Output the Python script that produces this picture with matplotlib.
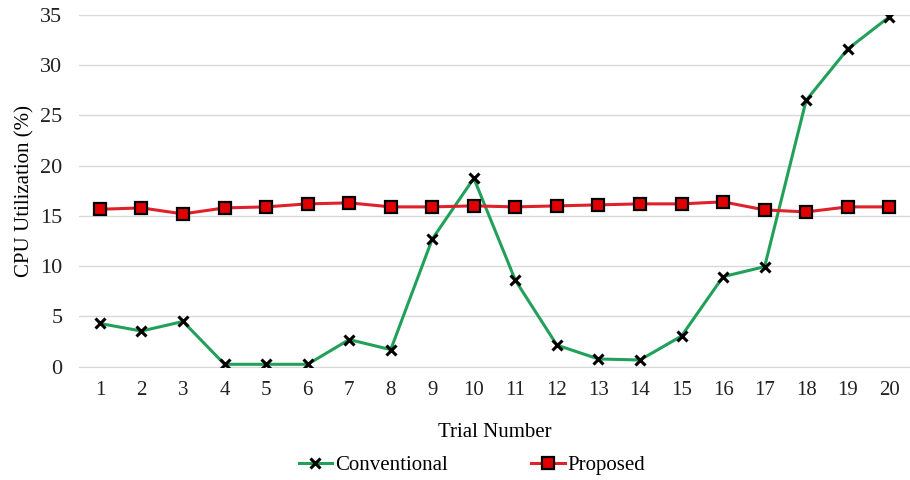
import matplotlib
matplotlib.use("Agg")
import matplotlib.pyplot as plt

trials = list(range(1, 21))
conventional = [4.3, 3.55, 4.5, 0.24, 0.24, 0.24, 2.7, 1.7, 12.7, 18.75,
                8.6, 2.15, 0.77, 0.67, 3.05, 8.96, 9.95, 26.5, 31.6, 34.8]
proposed = [15.66, 15.8, 15.2, 15.8, 15.9, 16.2, 16.3, 15.9, 15.9, 16.0,
            15.9, 16.0, 16.1, 16.2, 16.2, 16.4, 15.6, 15.4, 15.9, 15.9]
yticks = [0, 5, 10, 15, 20, 25, 30, 35]

plt.rcParams['font.family'] = ['Liberation Serif', 'DejaVu Serif']

fig = plt.figure(figsize=(9.1, 4.8), dpi=100)
ax = fig.add_axes([0.087, 0.236, 0.913, 0.733])

ax.plot(trials, conventional, color='#22A05A', linewidth=2.2, marker='x',
        markersize=7, markeredgewidth=2.2, markeredgecolor='black',
        label='Conventional', zorder=3)
ax.plot(trials, proposed, color='#E0202A', linewidth=2.2, marker='s',
        markersize=8, markerfacecolor='#E00000', markeredgecolor='black',
        markeredgewidth=1.6, label='Proposed', zorder=3)

ax.set_xlim(0.5, 20.5)
ax.set_ylim(0, 35)
ax.set_yticks(yticks)
ax.set_xticks(trials)
ax.grid(axis='y', color='#D9D9D9', linewidth=1)
ax.set_axisbelow(True)
for s in ['top', 'right', 'left']:
    ax.spines[s].set_visible(False)
ax.spines['bottom'].set_color('#D9D9D9')
ax.tick_params(axis='both', length=0, colors='#222222')
ax.tick_params(axis='x', pad=10, labelsize=15)
ax.tick_params(axis='y', pad=12, labelsize=16)

ax.set_xlabel('Trial Number', fontsize=15, labelpad=17)
ax.set_ylabel('CPU Utilization (%)', fontsize=15, labelpad=4)

ax.legend(loc='center', bbox_to_anchor=(0.473, -0.28), ncol=2,
          frameon=False, fontsize=15, handlelength=1.6, handletextpad=0.15,
          columnspacing=4.0)

plt.savefig('out.png', dpi=100)
